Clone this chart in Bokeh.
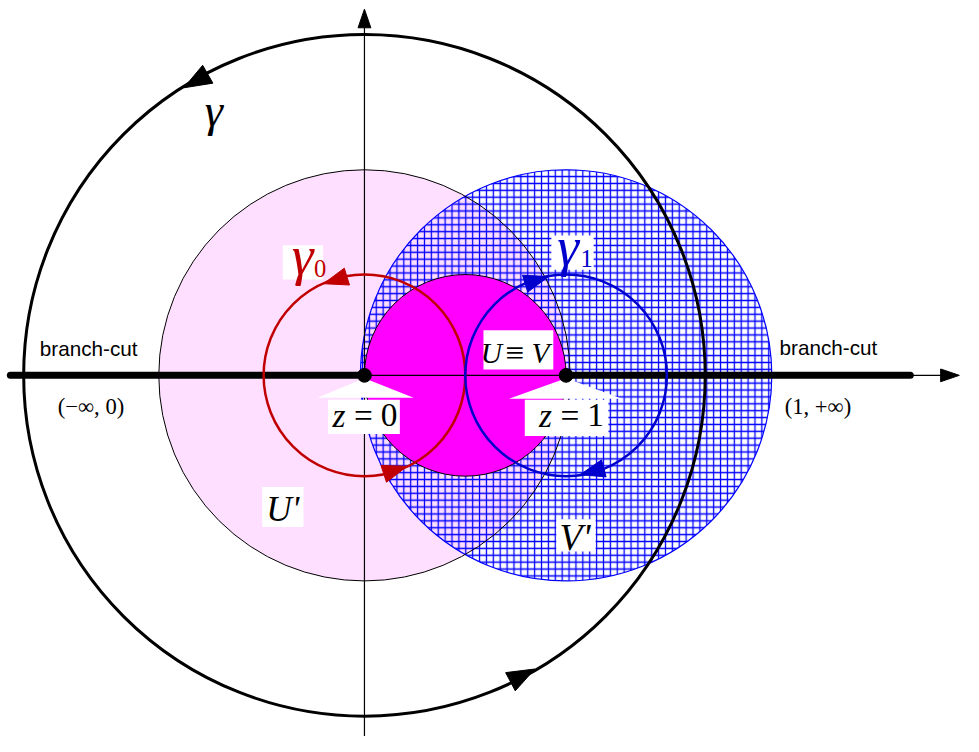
import math
from bokeh.plotting import figure
from bokeh.models import Range1d
from bokeh.core.properties import value
from bokeh.embed import file_html
from bokeh.resources import INLINE

# ---------------- data (unit = distance from z=0 to z=1) ----------------
branch_points = [0.0, 1.0]                 # z = 0, z = 1
branch_labels = ["0", "1"]
region_labels = ["U'", "V'", "U≡V"]
region_centers = [0.0, 1.0, 0.5]
region_radii = [1.02, 1.02, 0.5]
contour_labels = ["γ", "γ0", "γ1"]
contour_centers = [0.0, 0.0, 1.0]
contour_radii = [1.69, 0.5, 0.5]
contour_orientation = [1, 1, -1]           # +1 counter-clockwise, -1 clockwise
contour_arrow_angles = [[122, -60], [114, -65], [100, -82]]
cut_left = [-1.756, 0.0]                   # (−∞, 0) as drawn
cut_right = [1.0, 2.707]                   # (1, +∞) as drawn
axis_x_extent = [-1.756, 2.95]
axis_y_extent = [-1.84, 1.825]
cut_labels = ["(−∞, 0)", "(1, +∞)"]

# ---------------- layout helpers ----------------
PX = 205.0            # reference pixels per unit
OXS, OYS = 370, 383   # reference position of the origin
REF_W, REF_H = 979, 752
FIG_W, FIG_H = 963, 736
K = FIG_W / REF_W     # scale from reference pixels to figure pixels


def sx(px):
    return (px - OXS) / PX


def sy(py):
    return (OYS - py) / PX


SERIF = value("Liberation Serif")
SANS = value("Liberation Sans")
RED = "#C00000"
BLUE = "#0000CC"

p = figure(width=FIG_W, height=FIG_H, output_backend="svg", toolbar_location=None,
           x_range=Range1d(sx(0), sx(REF_W)), y_range=Range1d(sy(REF_H), sy(0)),
           x_axis_location=None, y_axis_location=None, min_border=0,
           outline_line_color=None, background_fill_color="white")
p.grid.visible = False

# regions
p.circle(x=[region_centers[0]], y=[0], radius=region_radii[0],
         fill_color="#FFDFFF", line_color=None)
p.circle(x=[region_centers[1]], y=[0], radius=region_radii[1],
         fill_color=None, hatch_pattern="+", hatch_color="#0000FF",
         hatch_scale=7 * K, hatch_weight=1.3, line_color="#0000FF", line_width=1.2)
p.circle(x=[region_centers[0]], y=[0], radius=region_radii[0],
         fill_color=None, line_color="black", line_width=1)
p.circle(x=[region_centers[2]], y=[0], radius=region_radii[2],
         fill_color="#FF00FF", line_color="black", line_width=1)

# axes
ah_len, ah_w = 19 / PX, 13 / PX
p.line(x=[axis_x_extent[0], axis_x_extent[1] - ah_len], y=[0, 0], line_color="black", line_width=1.2)
p.patches(xs=[[axis_x_extent[1], axis_x_extent[1] - ah_len, axis_x_extent[1] - ah_len]],
          ys=[[0, ah_w / 2, -ah_w / 2]], fill_color="black", line_color="black")
p.line(x=[0, 0], y=[axis_y_extent[0], axis_y_extent[1] - ah_len], line_color="black", line_width=1.2)
p.patches(xs=[[0, ah_w / 2, -ah_w / 2]],
          ys=[[axis_y_extent[1], axis_y_extent[1] - ah_len, axis_y_extent[1] - ah_len]],
          fill_color="black", line_color="black")

# branch cuts
for seg in (cut_left, cut_right):
    p.line(x=seg, y=[0, 0], line_color="black", line_width=7, line_cap="round")

# contours with arrow heads
contour_colors = ["black", RED, BLUE]
contour_widths = [3, 2.5, 2.5]
head_sizes = [(28, 21), (25, 18), (25, 18)]
for cx, r, ori, angs, col, lw, (hl, hw) in zip(contour_centers, contour_radii, contour_orientation,
                                                contour_arrow_angles, contour_colors, contour_widths,
                                                head_sizes):
    p.circle(x=[cx], y=[0], radius=r, fill_color=None, line_color=col, line_width=lw)
    xs, ys = [], []
    L, Wd = hl / PX, hw / PX
    for a in angs:
        th = math.radians(a)
        tipx, tipy = cx + r * math.cos(th), r * math.sin(th)
        thb = th - ori * L / r
        bx, by = cx + r * math.cos(thb), r * math.sin(thb)
        dx, dy = tipx - bx, tipy - by
        n = math.hypot(dx, dy)
        nx, ny = -dy / n, dx / n
        xs.append([tipx, bx + nx * Wd / 2, bx - nx * Wd / 2])
        ys.append([tipy, by + ny * Wd / 2, by - ny * Wd / 2])
    p.patches(xs=xs, ys=ys, fill_color=col, line_color=col)

# white label boxes (reference-pixel layout)
boxes = [(287, 328, 250, 285), (560, 603, 240, 275), (491, 562, 337, 377),
         (266, 308, 497, 538), (565, 605, 530, 563), (333, 406, 408, 443), (533, 618, 408, 445)]
p.quad(left=[sx(b[0]) for b in boxes], right=[sx(b[1]) for b in boxes],
       top=[sy(b[2]) for b in boxes], bottom=[sy(b[3]) for b in boxes],
       fill_color="white", line_color=None)
# callout wedges
p.patches(xs=[[branch_points[0], sx(322), sx(420)], [branch_points[1], sx(517), sx(632)]],
          ys=[[-3 / PX, sy(406), sy(406)], [-3 / PX, sy(407), sy(407)]],
          fill_color="white", line_color=None)

# branch points (on top of the callouts)
p.scatter(x=branch_points, y=[0, 0], size=14 * K, color="black")


def txt(x, y, s, size, color="black", style="normal", font=SERIF, align="center"):
    p.text(x=[sx(x)], y=[sy(y)], text=[s], text_font=font, text_font_size=f"{size * K:.1f}px",
           text_font_style=style, text_color=color, text_align=align,
           text_baseline="alphabetic")


# contour labels
txt(217, 112, contour_labels[0], 47, style="italic")
txt(307, 261, contour_labels[1][0], 56, color=RED, style="italic")
txt(325, 274, contour_labels[1][1], 25, color=RED)
txt(577, 251, contour_labels[2][0], 56, color=BLUE, style="italic")
txt(596, 264, contour_labels[2][1], 25, color=BLUE)

# region labels
txt(499, 360, "U", 30, style="italic")
txt(523, 360, "≡", 34)
txt(549, 360, "V", 30, style="italic")
txt(287, 520, region_labels[0], 36, style="italic")
txt(584, 549, region_labels[1], 38, style="italic")

# branch point labels
for cx, lab in zip([369, 579], branch_labels):
    txt(cx - 25, 424, "z", 34, style="italic")
    txt(cx, 424, "=", 34)
    txt(cx + 26, 424, lab, 34)

# branch-cut labels
txt(40, 356, "branch-cut", 21, font=SANS, align="left")
txt(792, 355, "branch-cut", 21, font=SANS, align="left")
txt(92, 415, cut_labels[0], 23)
txt(831, 415, cut_labels[1], 23)

open("out.html", "w").write(file_html(p, INLINE))
